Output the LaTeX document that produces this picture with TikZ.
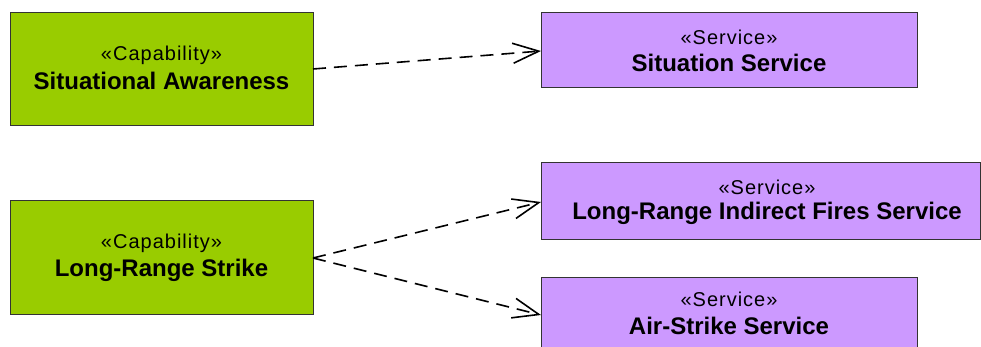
\documentclass[tikz,border=0pt]{standalone}
\usepackage{fontspec}
\setmainfont{Liberation Sans}
\usetikzlibrary{arrows.meta}
\definecolor{capgreen}{HTML}{99CC00}
\definecolor{svcpurple}{HTML}{CC99FF}
\tikzset{
  capbox/.style={draw=black!80, line width=1pt, fill=capgreen},
  svcbox/.style={draw=black!80, line width=1pt, fill=svcpurple},
  stereo/.style={font=\fontsize{20}{24}\selectfont\addfontfeature{LetterSpace=5}, inner sep=0pt, anchor=center},
  title/.style={font=\fontsize{24}{28}\selectfont\bfseries, inner sep=0pt, anchor=center},
  dep/.style={line width=1.6pt, dash pattern=on 13pt off 8pt, -{Straight Barb[length=26pt, width=20pt, line width=1.6pt]}}
}
\begin{document}
\begin{tikzpicture}[x=1pt, y=-1pt]
\useasboundingbox (0,0) rectangle (981,347);
\clip (0,0) rectangle (981,347);
% capability boxes
\path[capbox] (10,13) rectangle (313,126);
\path[capbox] (10,201) rectangle (313,314);
% service boxes
\path[svcbox] (541,13) rectangle (917,88);
\path[svcbox] (541,163) rectangle (980.5,239);
\path[svcbox] (541,277) rectangle (917,360);
% texts
\node[stereo] (saS) at (161.5,55) {«Capability»};
\node[title] (saT) at (161.5,81) {Situational Awareness};
\node[stereo] (lrS) at (161.5,243) {«Capability»};
\node[title] (lrT) at (161.5,270) {Long-Range Strike};
\node[stereo] (ssS) at (729,37) {«Service»};
\node[title] (ssT) at (729,63) {Situation Service};
\node[stereo] (lfS) at (767,187) {«Service»};
\node[title] (lfT) at (767,213) {Long-Range Indirect Fires Service};
\node[stereo] (asS) at (729,299) {«Service»};
\node[title] (asT) at (729,326) {Air-Strike Service};
% connector end points
\coordinate (saR) at (313,69);
\coordinate (lrR) at (313,258);
\coordinate (ssL) at (541,51);
\coordinate (lfL) at (541,202);
\coordinate (asL) at (541,315);
\draw[dep] (saR) -- (ssL);
\draw[dep] (lrR) -- (lfL);
\draw[dep] (lrR) -- (asL);
\end{tikzpicture}
\end{document}
